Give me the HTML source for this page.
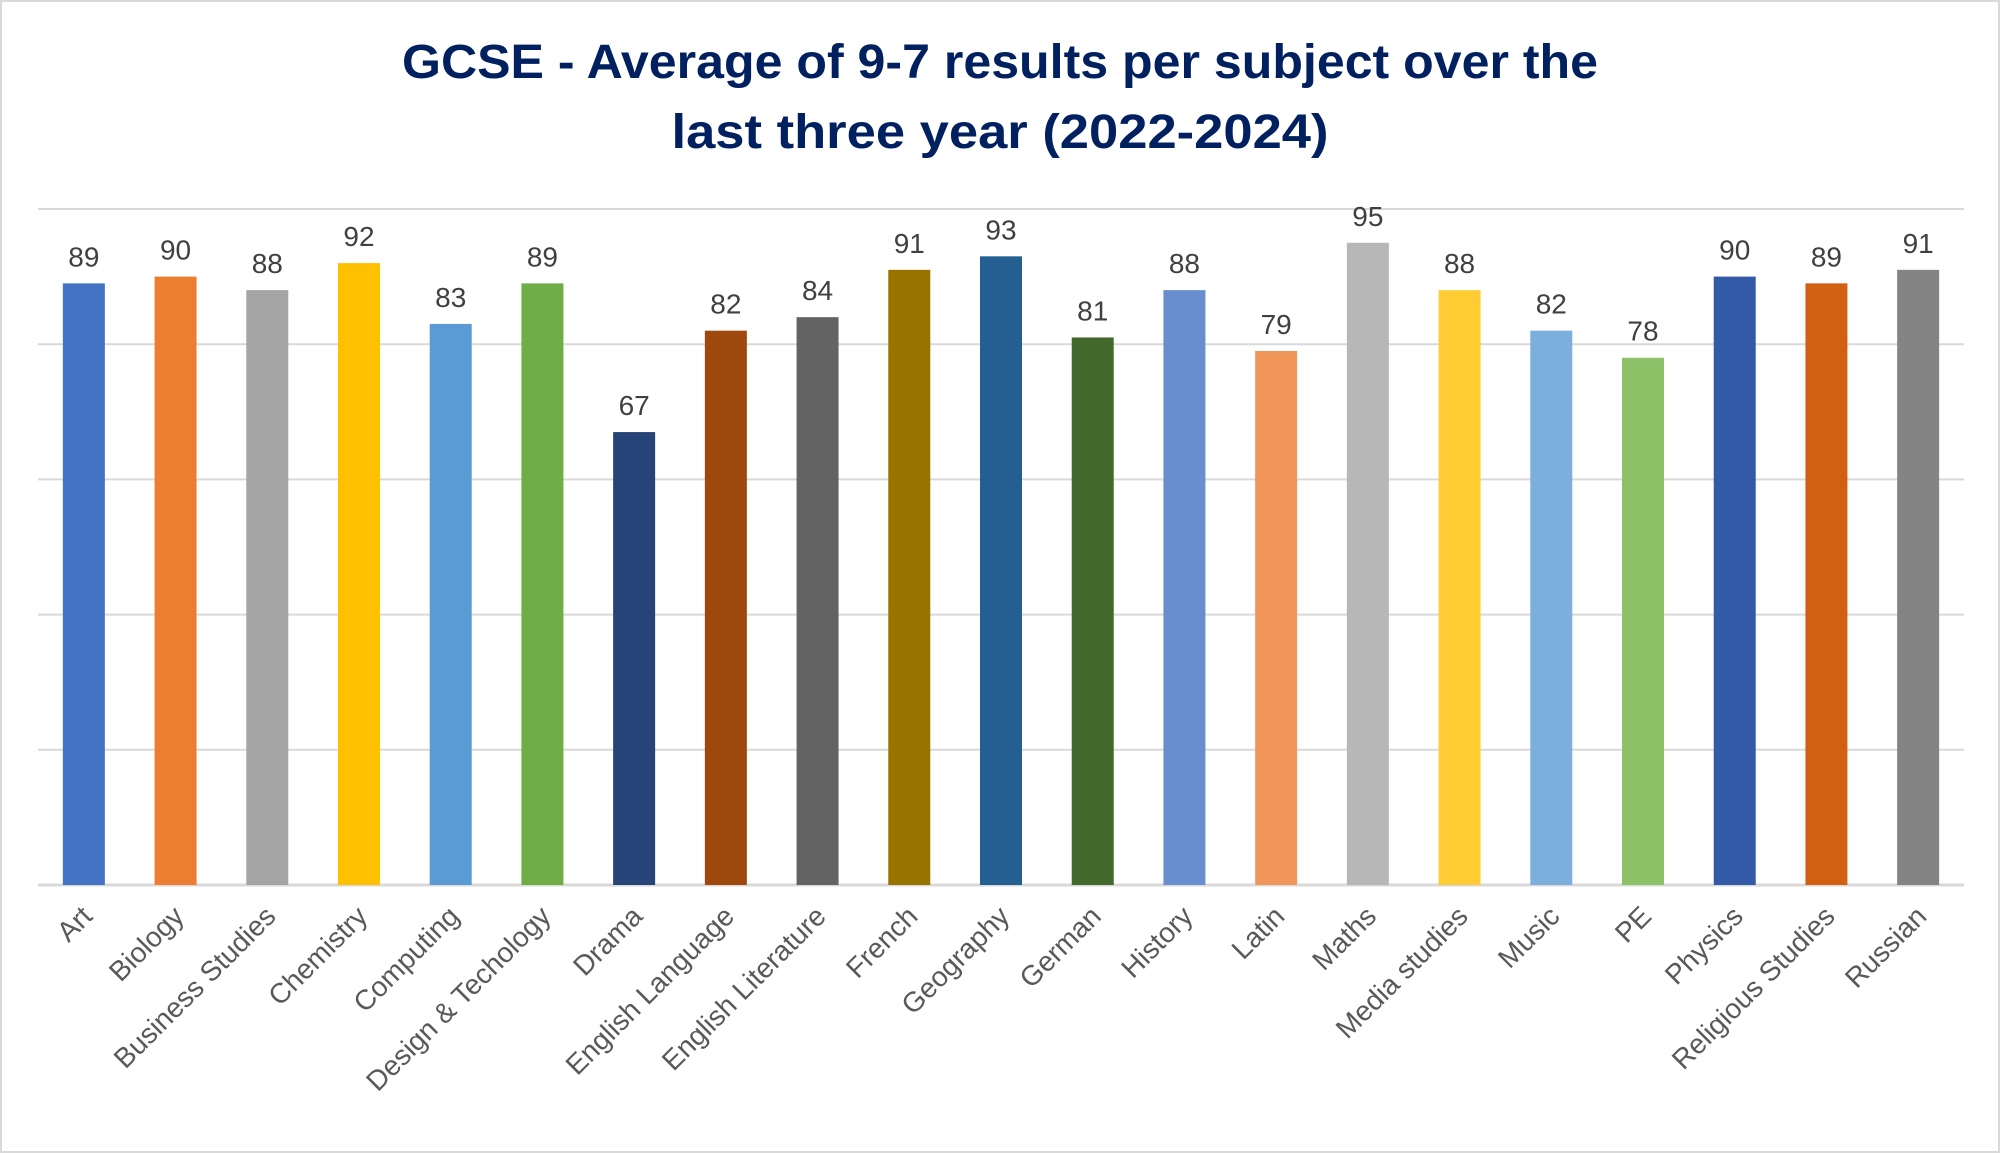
<!DOCTYPE html>
<html><head><meta charset="utf-8"><style>
html,body{margin:0;padding:0;background:#fff;}
svg{display:block;}
text{font-family:"Liberation Sans",sans-serif;}
</style></head><body>
<svg id="chart" width="2000" height="1153" viewBox="0 0 2000 1153" xmlns="http://www.w3.org/2000/svg">
<rect x="1" y="1" width="1998" height="1151" fill="#fff" stroke="#d9d9d9" stroke-width="2"/>
<text x="1000" y="78" text-anchor="middle" font-size="48" font-weight="bold" fill="#002060" textLength="1196" lengthAdjust="spacingAndGlyphs">GCSE - Average of 9-7 results per subject over the</text>
<text x="1000" y="148" text-anchor="middle" font-size="48" font-weight="bold" fill="#002060" textLength="657" lengthAdjust="spacingAndGlyphs">last three year (2022-2024)</text>
<g id="grid"></g><g id="bars"></g><g id="labels"></g><g id="cats"></g>
</svg>
<script>
const categories=["Art","Biology","Business Studies","Chemistry","Computing","Design & Techology","Drama","English Language","English Literature","French","Geography","German","History","Latin","Maths","Media studies","Music","PE","Physics","Religious Studies","Russian"];
const values=[89,90,88,92,83,89,67,82,84,91,93,81,88,79,95,88,82,78,90,89,91];
const colors=["#4472C4","#ED7D31","#A5A5A5","#FFC000","#5B9BD5","#70AD47","#264478","#9E480E","#636363","#997300","#255E91","#43682B","#698ED0","#F1975A","#B7B7B7","#FFCD33","#7CAFDD","#8CC168","#335AA6","#D26012","#848484"];
const gridTicks=[0,20,40,60,80,100];
const NS="http://www.w3.org/2000/svg";
const L=38,R=1964,T=209,B=885,ymax=100;
const step=(R-L)/categories.length;
const xc=i=>L+step*(i+0.5);
const y=v=>B-(v/ymax)*(B-T);
function mk(tag,attrs,parent){const e=document.createElementNS(NS,tag);for(const k in attrs)e.setAttribute(k,attrs[k]);document.getElementById(parent).appendChild(e);return e;}
gridTicks.forEach(t=>{
  const g=mk('line',{x1:L,x2:R,y1:y(t),y2:y(t),stroke:'#d9d9d9','stroke-width':t===0?3:2},'grid');
  
  
});
categories.forEach((c,i)=>{
  const bw=42;
  const b=mk('rect',{x:xc(i)-bw/2,y:y(values[i]),width:bw,height:B-y(values[i]),fill:colors[i]},'bars');
  
  
  const t=mk('text',{x:xc(i),y:y(values[i])-17,'text-anchor':'middle','font-size':28,fill:'#404040'},'labels');
  t.textContent=values[i];
  
  
  const ax=xc(i)+10,ay=918;
  const ct=mk('text',{x:ax,y:ay,'text-anchor':'end','font-size':28,fill:'#595959',transform:`rotate(-45 ${ax} ${ay})`},'cats');
  ct.textContent=c;
  
  
});
</script>
</body></html>
